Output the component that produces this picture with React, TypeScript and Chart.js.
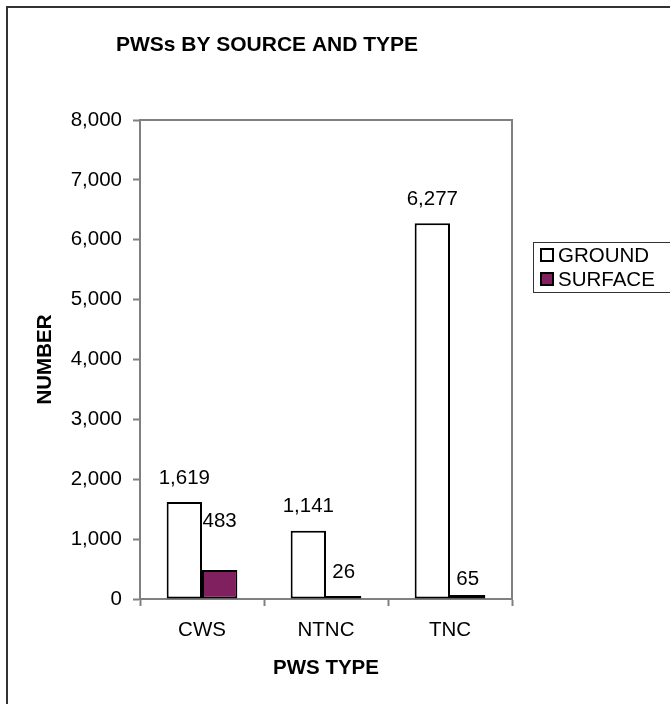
import React, { useEffect, useRef } from "react";
import { Chart, registerables } from "chart.js";

Chart.register(...registerables);

const categories = ["CWS", "NTNC", "TNC"];
const groundValues = [1619, 1141, 6277];
const surfaceValues = [483, 26, 65];
const seriesNames = ["GROUND", "SURFACE"];
const titleText = "PWSs BY SOURCE AND TYPE";
const xTitle = "PWS TYPE";
const yTitle = "NUMBER";
const yMin = 0;
const yMax = 8000;
const yStep = 1000;

const FONT = "'Liberation Sans', Arial, Helvetica, sans-serif";
const PURPLE = "#80205F";

const fmt = (v: number) => v.toLocaleString("en-US");

// extra vertical lift (px) for individual data labels, as placed in the original
const labelLift: Record<string, number> = { "1-0": 25, "1-2": -8 };

const decorPlugin = {
  id: "decor",
  beforeDraw(chart: any) {
    const ctx = chart.ctx;
    ctx.save();
    ctx.fillStyle = "#ffffff";
    ctx.fillRect(0, 0, chart.width, chart.height);
    ctx.restore();
  },
  afterDraw(chart: any) {
    const ctx = chart.ctx;
    const area = chart.chartArea;
    ctx.save();
    // outer frame
    ctx.strokeStyle = "#333333";
    ctx.lineWidth = 2;
    ctx.strokeRect(7, 7, chart.width + 20, chart.height + 20);
    // plot area top & right border
    ctx.strokeStyle = "#808080";
    ctx.lineWidth = 2;
    ctx.beginPath();
    ctx.moveTo(area.left, area.top);
    ctx.lineTo(area.right, area.top);
    ctx.lineTo(area.right, area.bottom);
    ctx.stroke();
    // title
    ctx.fillStyle = "#000000";
    ctx.font = `bold 21px ${FONT}`;
    ctx.textAlign = "center";
    ctx.textBaseline = "middle";
    ctx.fillText(titleText, 267, 45);
    // legend
    ctx.strokeStyle = "#333333";
    ctx.lineWidth = 1;
    ctx.strokeRect(533.5, 242.5, 200, 50);
    const legendColors = [chart.data.datasets[0].backgroundColor, chart.data.datasets[1].backgroundColor];
    const ys = [255, 279];
    ctx.font = `20.5px ${FONT}`;
    ctx.textAlign = "left";
    ctx.textBaseline = "middle";
    for (let i = 0; i < seriesNames.length; i++) {
      ctx.fillStyle = legendColors[i];
      ctx.fillRect(541, ys[i] - 6, 12, 12);
      ctx.strokeStyle = "#000000";
      ctx.lineWidth = 2;
      ctx.strokeRect(541, ys[i] - 6, 12, 12);
      ctx.fillStyle = "#000000";
      ctx.fillText(seriesNames[i], 558, ys[i] + 1);
    }
    ctx.restore();
  },
  afterDatasetsDraw(chart: any) {
    const ctx = chart.ctx;
    ctx.save();
    ctx.fillStyle = "#000000";
    ctx.font = `20.5px ${FONT}`;
    ctx.textAlign = "center";
    ctx.textBaseline = "middle";
    chart.data.datasets.forEach((ds: any, di: number) => {
      const meta = chart.getDatasetMeta(di);
      meta.data.forEach((el: any, i: number) => {
        const lift = labelLift[`${di}-${i}`] || 0;
        ctx.fillText(fmt(ds.data[i]), el.x, el.y - 24 - lift);
      });
    });
    ctx.restore();
  },
};

export default function App() {
  const ref = useRef<HTMLCanvasElement | null>(null);
  useEffect(() => {
    if (!ref.current) return;
    const chart = new Chart(ref.current, {
      type: "bar",
      data: {
        labels: categories,
        datasets: [
          {
            label: seriesNames[0],
            data: groundValues,
            backgroundColor: "#ffffff",
            borderColor: "#000000",
            borderWidth: 2,
            borderSkipped: false,
            categoryPercentage: 0.57,
            barPercentage: 1,
            minBarLength: 3,
          },
          {
            label: seriesNames[1],
            data: surfaceValues,
            backgroundColor: PURPLE,
            borderColor: "#000000",
            borderWidth: 2,
            borderSkipped: false,
            categoryPercentage: 0.57,
            barPercentage: 1,
            minBarLength: 3,
          },
        ],
      },
      plugins: [decorPlugin],
      options: {
        animation: false,
        responsive: false,
        devicePixelRatio: 1,
        layout: { padding: { left: 0, top: 120, right: 158, bottom: 0 } },
        plugins: {
          legend: { display: false },
          title: { display: false },
          tooltip: { enabled: false },
        },
        scales: {
          x: {
            afterFit(scale: any) {
              scale.height = 105;
            },
            grid: {
              display: true,
              drawOnChartArea: false,
              drawTicks: true,
              tickLength: 7,
              tickColor: "#808080",
              tickWidth: 2,
              offset: true,
            },
            border: { display: true, color: "#808080", width: 2 },
            ticks: {
              color: "#000000",
              font: { family: FONT, size: 20.5 },
              padding: 12,
              maxRotation: 0,
            },
            title: {
              display: true,
              text: xTitle,
              color: "#000000",
              font: { family: FONT, size: 20.5, weight: "bold" },
              padding: { top: 0, bottom: 23 },
            },
          },
          y: {
            min: yMin,
            max: yMax,
            afterFit(scale: any) {
              scale.width = 140;
            },
            grid: {
              display: true,
              drawOnChartArea: false,
              drawTicks: true,
              tickLength: 7,
              tickColor: "#808080",
              tickWidth: 2,
            },
            border: { display: true, color: "#808080", width: 2 },
            ticks: {
              stepSize: yStep,
              color: "#000000",
              font: { family: FONT, size: 20.5 },
              padding: 11,
              callback: (v: any) => fmt(Number(v)),
            },
            title: {
              display: true,
              text: yTitle,
              color: "#000000",
              font: { family: FONT, size: 20.5, weight: "bold" },
              padding: { top: 33, bottom: 0 },
            },
          },
        },
      },
    });
    return () => chart.destroy();
  }, []);
  return (
    <div style={{ position: "fixed", left: 0, top: 0, width: 670, height: 704, background: "#fff" }}>
      <canvas ref={ref} width={670} height={704} style={{ display: "block", width: 670, height: 704 }} />
    </div>
  );
}
